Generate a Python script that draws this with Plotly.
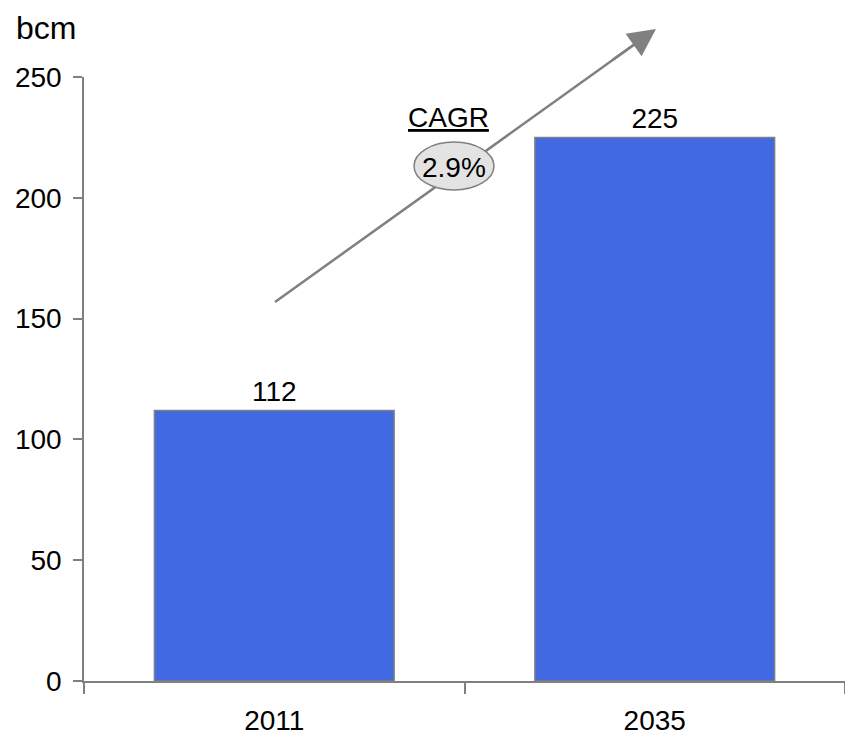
import plotly.graph_objects as go

years = ["2011", "2035"]
values = [112, 225]
cagr_label = "2.9%"
unit_label = "bcm"

W, H = 845, 736
L, R, T, B = 84, 0, 77, 55
pw, ph = W - L - R, H - T - B

def px(x):
    return (x - L) / pw

def py(y):
    return (H - B - y) / ph

grey = "#808080"
font = dict(family="Liberation Sans, Arial, sans-serif", size=28, color="#000000")

fig = go.Figure()
fig.add_trace(go.Bar(
    x=years, y=values,
    marker=dict(color="#4169E1", line=dict(color=grey, width=1.5)),
    text=[str(v) for v in values], textposition="outside",
    textfont=font, cliponaxis=False,
))

fig.update_layout(
    width=W, height=H,
    margin=dict(l=L, r=R, t=T, b=B),
    plot_bgcolor="white", paper_bgcolor="white",
    bargap=0.37,
    showlegend=False,
    font=font,
    xaxis=dict(showline=True, linecolor=grey, linewidth=1.5, ticks="outside",
               tickson="boundaries", ticklen=11, tickcolor=grey, tickwidth=1.5,
               showgrid=False, tickfont=font, ticklabelstandoff=14),
    yaxis=dict(range=[0, 250], tickvals=[0, 50, 100, 150, 200, 250],
               showline=True, linecolor=grey, linewidth=1.5, ticks="outside",
               ticklen=9, tickcolor=grey, tickwidth=1.5, showgrid=False,
               zeroline=False, tickfont=font, ticklabelstandoff=6),
)

# arrow line (shape), ellipse on top of it
tail = (275, 302)
tip = (656, 29)
fig.add_shape(type="line", xref="paper", yref="paper",
              x0=px(tail[0]), y0=py(tail[1]), x1=px(tip[0] - 14), y1=py(tip[1] + 10),
              line=dict(color=grey, width=2.5), layer="above")
fig.add_shape(type="circle", xref="paper", yref="paper",
              x0=px(414), x1=px(494), y0=py(190), y1=py(142),
              fillcolor="#e3e3e3", line=dict(color=grey, width=1.5), layer="above")
# arrowhead
fig.add_annotation(xref="paper", yref="paper", x=px(tip[0]), y=py(tip[1]),
                   ax=-45, ay=32, text="", showarrow=True, arrowhead=2,
                   arrowsize=2.2, arrowwidth=2.5, arrowcolor=grey)

fig.add_annotation(xref="paper", yref="paper", x=px(454), y=py(167),
                   xanchor="center", yanchor="middle",
                   text=cagr_label, showarrow=False, font=font)
fig.add_annotation(xref="paper", yref="paper", x=px(448), y=py(118),
                   xanchor="center", yanchor="middle",
                   text="<u>CAGR</u>", showarrow=False, font=font)
fig.add_annotation(xref="paper", yref="paper", x=px(46), y=py(28),
                   xanchor="center", yanchor="middle",
                   text=unit_label, showarrow=False,
                   font=dict(family=font["family"], size=32, color="#000000"))

fig.write_html("out.html")
